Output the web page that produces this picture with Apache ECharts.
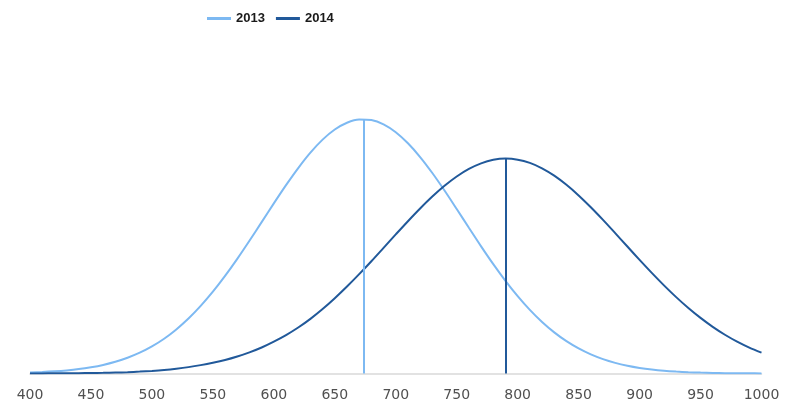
<!DOCTYPE html>
<html>
<head>
<meta charset="utf-8">
<script src="https://cdn.jsdelivr.net/npm/echarts@6/dist/echarts.min.js"></script>
<style>
html,body{margin:0;padding:0;background:#fff;}
#chart{width:787px;height:407px;}
</style>
</head>
<body>
<div id="chart"></div>
<script>
var seriesNames = ['2013', '2014'];
var xValues = [400,410,420,430,440,450,460,470,480,490,500,510,520,530,540,550,560,570,580,590,
  600,610,620,630,640,650,660,670,680,690,700,710,720,730,740,750,760,770,780,790,
  800,810,820,830,840,850,860,870,880,890,900,910,920,930,940,950,960,970,980,990,1000];
var values2013 = [0.019,0.028,0.041,0.059,0.084,0.119,0.164,0.224,0.301,0.398,
  0.519,0.666,0.844,1.052,1.293,1.565,1.867,2.194,2.540,2.897,
  3.256,3.605,3.932,4.227,4.476,4.669,4.799,4.861,4.850,4.768,
  4.617,4.406,4.143,3.837,3.502,3.148,2.789,2.434,2.093,1.773,
  1.480,1.217,0.986,0.787,0.619,0.480,0.366,0.275,0.204,0.149,
  0.107,0.076,0.053,0.037,0.025,0.017,0.011,0.007,0.005,0.003,0.002];
var values2014 = [0.001,0.002,0.003,0.004,0.006,0.009,0.012,0.018,0.025,0.036,
  0.050,0.068,0.092,0.122,0.160,0.205,0.258,0.325,0.405,0.498,
  0.610,0.735,0.880,1.046,1.234,1.441,1.664,1.901,2.149,2.405,
  2.662,2.915,3.158,3.386,3.592,3.770,3.915,4.022,4.089,4.113,
  4.093,4.031,3.927,3.786,3.611,3.408,3.182,2.940,2.687,2.430,
  2.175,1.926,1.687,1.462,1.254,1.064,0.893,0.742,0.610,0.496,0.399];
var peakX = [673.5, 790.5];
var peakY = [4.865, 4.113];
var xTicks = [400,450,500,550,600,650,700,750,800,850,900,950,1000];

var colors = ['#7DB9F2', '#21599A'];
function zip(xs, ys){ return xs.map(function(x,i){ return [x, ys[i]]; }); }
var allValues = [values2013, values2014];

var chart = echarts.init(document.getElementById('chart'), null, {renderer:'canvas'});
chart.setOption({
  animation: false,
  backgroundColor: '#ffffff',
  legend: {
    data: seriesNames.map(function(n){ return {name: n, icon: 'rect'}; }),
    left: 207, top: 12, padding: 0,
    itemWidth: 24, itemHeight: 3, itemGap: 11,
    textStyle: {fontFamily: 'Liberation Sans', fontWeight: 'bold', fontSize: 13, color: '#1a1a1a'}
  },
  grid: {left: 30, right: 25.5, top: 60, bottom: 33.5, containLabel: false},
  xAxis: {
    type: 'value', min: xTicks[0], max: xTicks[xTicks.length-1], interval: 50,
    axisLine: {show: true, lineStyle: {color: '#d9d9d9', width: 1.5}},
    axisTick: {show: false},
    splitLine: {show: false},
    axisLabel: {fontFamily: 'DejaVu Sans', fontSize: 14, color: '#505050', margin: 15,
      showMinLabel: true, showMaxLabel: true,
      formatter: function(v){ return String(v); }}
  },
  yAxis: {type: 'value', min: 0, max: 6, show: false, splitLine: {show: false}},
  series: seriesNames.map(function(name, i){
    return {
      name: name, type: 'line', symbol: 'none', smooth: 0.3,
      data: zip(xValues, allValues[i]),
      lineStyle: {color: colors[i], width: 2},
      itemStyle: {color: colors[i]},
      markLine: {
        silent: true, symbol: 'none', label: {show: false},
        lineStyle: {color: colors[i], width: 2, type: 'solid'},
        data: [[{coord: [peakX[i], 0]}, {coord: [peakX[i], peakY[i]]}]]
      }
    };
  })
});
</script>
</body>
</html>
